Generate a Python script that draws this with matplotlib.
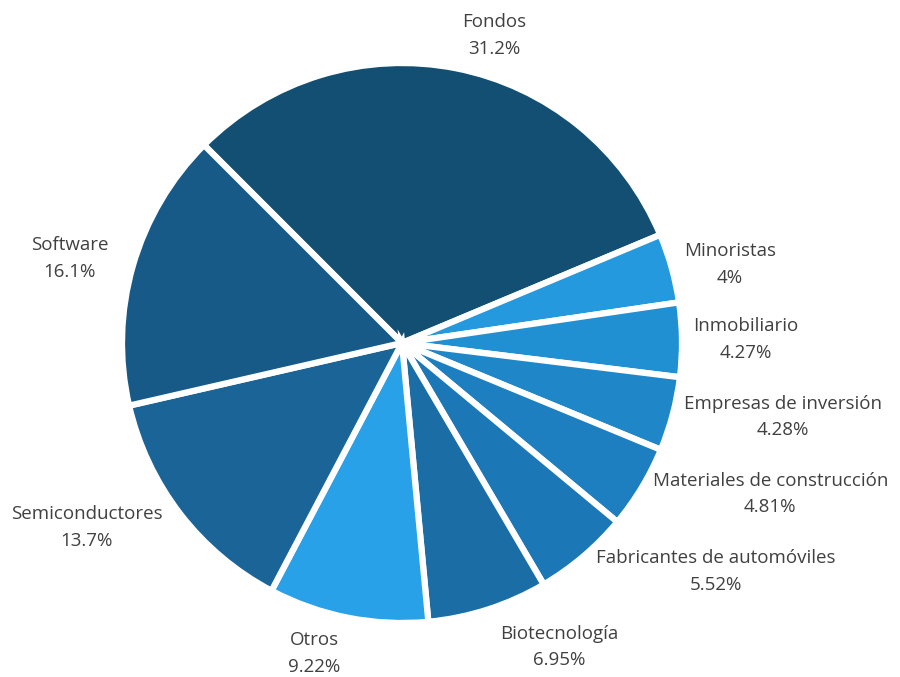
import matplotlib
matplotlib.use("Agg")
import matplotlib.pyplot as plt
import numpy as np

sectors = ["Fondos", "Minoristas", "Inmobiliario", "Empresas de inversión",
           "Materiales de construcción", "Fabricantes de automóviles",
           "Biotecnología", "Otros", "Semiconductores", "Software"]
shares = [31.2, 4, 4.27, 4.28, 4.81, 5.52, 6.95, 9.22, 13.7, 16.1]
share_labels = ["31.2%", "4%", "4.27%", "4.28%", "4.81%", "5.52%",
                "6.95%", "9.22%", "13.7%", "16.1%"]
colors = ["#134f73", "#2599dd", "#2190d3", "#1f87c8", "#1d7fc0",
          "#1c77b6", "#1b6da6", "#28a1e8", "#1a6497", "#175a87"]
# label distance from centre (in radii), tuned per slice like Excel's best fit
label_dist = [1.12, 1.045, 1.04, 1.04, 1.045, 1.07, 1.14, 1.13, 1.08, 1.09]

plt.rcParams['font.family'] = ['Open Sans', 'DejaVu Sans']

fig = plt.figure(figsize=(9, 6.77), dpi=100)
# pie centre ~ (402, 343) px, radius ~280 px
ax = fig.add_axes([(402 - 280) / 900, (677 - 343 - 280) / 677, 560 / 900, 560 / 677])

labels = [f"{s}\n{p}" for s, p in zip(sectors, share_labels)]
wedges, texts = ax.pie(shares, labels=labels, colors=colors, startangle=135,
                       counterclock=False, labeldistance=1.1, radius=1.0,
                       wedgeprops=dict(edgecolor="white", linewidth=4.5),
                       textprops=dict(color="#404040", fontsize=13.5, linespacing=1.6))
for w, t, d in zip(wedges, texts, label_dist):
    mid = np.deg2rad((w.theta1 + w.theta2) / 2)
    t.set_position((d * np.cos(mid), d * np.sin(mid)))
    t.set_multialignment("center")

ax.set_xlim(-1, 1)
ax.set_ylim(-1, 1)
ax.axis("off")

fig.savefig("out.png", dpi=100)
